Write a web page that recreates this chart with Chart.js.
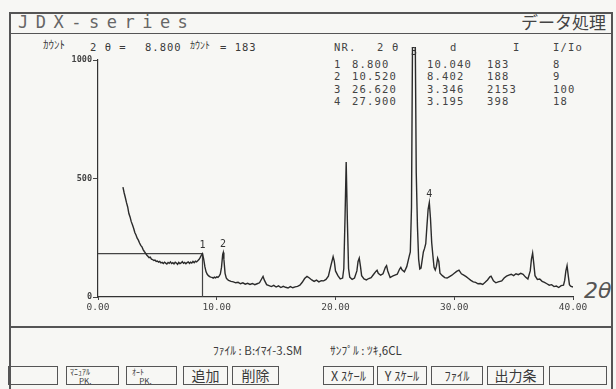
<!DOCTYPE html>
<html>
<head>
<meta charset="utf-8">
<script src="https://cdn.jsdelivr.net/npm/chart.js@4/dist/chart.umd.min.js"></script>
<style>
    body { margin: 0; background: #f7f7f4; }
    #wrap { position: relative; width: 616px; height: 389px; overflow: hidden; color: #3a3a3a; font-family: "DejaVu Sans Mono", monospace; }
    #chart { position: absolute; left: 0; top: 0; }
    .t { position: absolute; white-space: pre; line-height: 1; }
    .jp { font-family: "Noto Sans CJK JP", sans-serif; }
    .line { position: absolute; background: #555; }
    .btn { position: absolute; top: 366px; height: 19px; border: 1.2px solid #555; box-sizing: border-box;
           font-family: "Noto Sans CJK JP", sans-serif; font-size: 13px; line-height: 17px; text-align: center; white-space: pre; }
    .tbl { font-size: 10.5px; letter-spacing: 1.2px; color: #444; }
</style>
</head>
<body>
<div id="wrap">
    <!-- frame -->
    <div class="line" style="left:9px;top:12px;width:604px;height:1.5px"></div>
    <div class="line" style="left:9px;top:12px;width:1.5px;height:380px"></div>
    <div class="line" style="left:611px;top:12px;width:1.5px;height:380px"></div>
    <div class="line" style="left:9px;top:33px;width:604px;height:1.2px"></div>
    <div class="line" style="left:9px;top:326px;width:604px;height:1.8px"></div>

    <div class="t" style="left:18px;top:14px;font-size:17px;letter-spacing:7.5px;color:#666">JDX-series</div>
    <div class="t jp" style="left:521px;top:13px;font-size:17px;color:#444">データ処理</div>

    <div class="t jp" style="left:43px;top:39px;font-size:11px">ｶｳﾝﾄ</div>
    <div class="t" style="left:90px;top:42px;font-size:10.5px;letter-spacing:1px">2 θ =</div>
    <div class="t" style="left:145px;top:42px;font-size:10.5px;letter-spacing:1px">8.800</div>
    <div class="t jp" style="left:190px;top:40px;font-size:10px">ｶｳﾝﾄ</div>
    <div class="t" style="left:220px;top:42px;font-size:10.5px;letter-spacing:1px">= 183</div>

    <div id="table"></div>

    <div class="t" style="left:584px;top:280px;font-size:22px;color:#555;font-family:'DejaVu Sans',sans-serif;font-style:italic;font-weight:200">2θ</div>

    <div class="t jp" style="left:213px;top:345px;font-size:11.5px">ﾌｧｲﾙ : B:ｲﾏｲ-3.SM</div>
    <div class="t jp" style="left:330px;top:345px;font-size:11.5px">ｻﾝﾌﾟﾙ : ﾂｷ,6CL</div>

    <div class="btn" style="left:8px;width:50px"></div>
    <div class="btn" style="left:66px;width:53px;font-size:8px;line-height:9px;text-align:left;padding-left:3px">ﾏﾆｭｱﾙ<br>     PK.</div>
    <div class="btn" style="left:126px;width:51px;font-size:8px;line-height:9px;text-align:left;padding-left:5px">ｵｰﾄ<br>    PK.</div>
    <div class="btn" style="left:183px;width:45px;font-size:14px">追加</div>
    <div class="btn" style="left:232px;width:47px;font-size:14px">削除</div>
    <div class="btn" style="left:323px;width:51px;font-size:12.5px">X ｽｹｰﾙ</div>
    <div class="btn" style="left:377px;width:50px;font-size:12.5px">Y ｽｹｰﾙ</div>
    <div class="btn" style="left:431px;width:52px;font-size:12.5px">ﾌｧｲﾙ</div>
    <div class="btn" style="left:487px;width:57px;font-size:14px">出力条</div>
    <div class="btn" style="left:549px;width:58px"></div>

    <canvas id="chart" width="616" height="389"></canvas>
</div>

<script>
// diffraction pattern
const twoTheta = [
    2.1, 2.2, 2.3, 2.4, 2.5, 2.6, 2.7, 2.8, 2.9, 3.0, 3.1, 3.2, 3.3, 3.4, 3.5, 3.6, 3.7, 3.8, 3.9, 4.0,
    4.1, 4.2, 4.3, 4.4, 4.5, 4.6, 4.7, 4.8, 4.9, 5.0, 5.1, 5.2, 5.3, 5.4, 5.5, 5.6, 5.7, 5.8, 5.9, 6.0,
    6.1, 6.2, 6.3, 6.4, 6.5, 6.6, 6.7, 6.8, 6.9, 7.0, 7.1, 7.2, 7.3, 7.4, 7.5, 7.6, 7.7, 7.8, 7.9, 8.0,
    8.1, 8.2, 8.3, 8.4, 8.5, 8.6, 8.7, 8.8, 8.9, 9.0, 9.1, 9.2, 9.3, 9.4, 9.5, 9.6, 9.7, 9.8, 9.9, 10.0,
    10.1, 10.2, 10.3, 10.4, 10.5, 10.55, 10.6, 10.7, 10.8, 10.9, 11.0, 11.2, 11.4, 11.6, 11.8, 12.0, 12.2, 12.4, 12.6, 12.8,
    13.0, 13.2, 13.4, 13.6, 13.8, 13.9, 14.0, 14.2, 14.4, 14.6, 14.8, 15.0, 15.2, 15.4, 15.6, 15.8, 16.0, 16.2, 16.4, 16.6,
    16.8, 17.0, 17.2, 17.4, 17.6, 17.8, 18.0, 18.2, 18.4, 18.6, 18.8, 19.0, 19.2, 19.4, 19.6, 19.8, 19.9, 20.0, 20.2, 20.4,
    20.6, 20.7, 20.8, 20.9, 21.0, 21.1, 21.2, 21.4, 21.6, 21.8, 21.9, 22.0, 22.1, 22.2, 22.4, 22.6, 22.8, 23.0, 23.2, 23.4,
    23.5, 23.6, 23.8, 24.0, 24.2, 24.3, 24.4, 24.6, 24.8, 25.0, 25.2, 25.4, 25.5, 25.6, 25.8, 26.0, 26.2, 26.3, 26.4, 26.5,
    26.62, 26.7, 26.8, 26.9, 27.0, 27.1, 27.2, 27.4, 27.5, 27.6, 27.7, 27.8, 27.9, 28.0, 28.1, 28.2, 28.3, 28.4, 28.5, 28.6,
    28.7, 28.8, 29.0, 29.2, 29.4, 29.6, 29.8, 30.0, 30.2, 30.4, 30.6, 30.8, 31.0, 31.2, 31.4, 31.6, 31.8, 32.0, 32.2, 32.4,
    32.6, 32.8, 33.0, 33.1, 33.3, 33.5, 33.7, 34.0, 34.2, 34.4, 34.6, 34.8, 35.0, 35.2, 35.4, 35.6, 35.8, 36.0, 36.2, 36.4,
    36.5, 36.6, 36.7, 36.8, 37.0, 37.2, 37.4, 37.6, 37.8, 38.0, 38.2, 38.4, 38.6, 38.8, 39.0, 39.2, 39.3, 39.4, 39.5, 39.6,
    39.7, 39.8, 40.0
];
const counts = [
    464, 440, 420, 398, 380, 352, 338, 318, 305, 290, 272, 262, 248, 240, 228, 218, 212, 200, 192, 185,
    177, 172, 166, 168, 160, 158, 154, 156, 150, 152, 147, 150, 144, 146, 141, 147, 143, 139, 146, 142,
    148, 141, 145, 140, 147, 143, 138, 146, 141, 144, 149, 142, 146, 140, 145, 148, 142, 147, 143, 150,
    145, 151, 148, 153, 158, 166, 176, 183, 160, 128, 106, 96, 90, 86, 84, 83, 80, 84, 81, 85,
    83, 88, 97, 125, 180, 188, 160, 100, 80, 74, 70, 66, 64, 60, 62, 56, 60, 54, 58, 53,
    57, 52, 56, 60, 78, 87, 72, 52, 48, 44, 49, 42, 47, 40, 45, 41, 38, 44, 39, 43,
    45, 50, 62, 78, 87, 80, 72, 66, 71, 64, 69, 68, 74, 88, 130, 170, 150, 110, 90, 76,
    80, 120, 330, 570, 320, 120, 84, 74, 80, 110, 150, 164, 130, 90, 76, 72, 78, 82, 95, 108,
    113, 100, 92, 98, 125, 132, 110, 82, 88, 92, 96, 118, 125, 115, 106, 128, 170, 190, 380, 1200,
    2153, 1200, 523, 300, 160, 118, 122, 190, 205, 225, 300, 370, 398, 330, 230, 175, 125, 114, 130, 164,
    150, 100, 90, 82, 80, 86, 92, 100, 108, 113, 98, 92, 86, 78, 70, 64, 62, 56, 57, 53,
    62, 72, 85, 88, 68, 60, 64, 68, 80, 88, 92, 96, 90, 98, 94, 100, 96, 84, 76, 110,
    160, 185, 140, 90, 74, 76, 66, 62, 56, 50, 52, 44, 46, 40, 48, 50, 70, 110, 132, 90,
    52, 46, 42
];

// cursor position and peak list
const cursorTheta = 8.8;
const cursorCount = 183;
const peakNr = [1, 2, 3, 4];
const peakTheta = [8.8, 10.52, 26.62, 27.9];
const peakD = ["10.040", "8.402", "3.346", "3.195"];
const peakI = [183, 188, 2153, 398];
const peakRel = [8, 9, 100, 18];

// table text (html)
const tbl = document.getElementById("table");
function put(txt, x, y) {
    const d = document.createElement("div");
    d.className = "t tbl";
    d.style.left = x + "px";
    d.style.top = y + "px";
    d.textContent = txt;
    tbl.appendChild(d);
}
put("NR.", 334, 42);
put("2 θ", 377, 42);
put("d", 450, 42);
put("I", 513, 42);
put("I/Io", 553, 42);
peakNr.forEach((n, i) => {
    const y = 59 + i * 12.4;
    put(String(n), 334, y);
    put(peakTheta[i].toFixed(3), 352, y);
    put(peakD[i], 427, y);
    put(String(peakI[i]), 487, y);
    put(String(peakRel[i]), 553, y);
});

const peakLabels = {
    id: "peakLabels",
    afterDatasetsDraw(chart) {
        const { ctx, scales, chartArea } = chart;
        ctx.save();
        ctx.font = "10px 'DejaVu Sans Mono'";
        ctx.fillStyle = "#333";
        ctx.textAlign = "center";
        ctx.textBaseline = "bottom";
        peakNr.forEach((n, i) => {
            const px = scales.x.getPixelForValue(peakTheta[i]);
            let py = scales.y.getPixelForValue(peakI[i]) - 3;
            if (py < chartArea.top - 6) py = chartArea.top - 3;
            ctx.fillText(String(n), px, py);
        });
        ctx.restore();
    }
};

new Chart(document.getElementById("chart").getContext("2d"), {
    type: "line",
    data: {
        datasets: [
            {
                data: twoTheta.map((t, i) => ({ x: t, y: counts[i] })),
                borderColor: "#2b2b2b",
                borderWidth: 1.4,
                pointRadius: 0,
                tension: 0,
                clip: { left: 0, top: 13, right: 0, bottom: 0 },
            },
            {
                data: [
                    { x: 0, y: cursorCount },
                    { x: cursorTheta, y: cursorCount },
                    { x: cursorTheta, y: 0 },
                ],
                borderColor: "#444",
                borderWidth: 1.2,
                pointRadius: 0,
                tension: 0,
            },
        ],
    },
    options: {
        responsive: false,
        animation: false,
        layout: { padding: { left: 56, right: 43, top: 60, bottom: 70 } },
        plugins: { legend: { display: false }, tooltip: { enabled: false } },
        scales: {
            x: {
                type: "linear",
                min: 0,
                max: 40,
                ticks: {
                    stepSize: 10,
                    maxRotation: 0,
                    padding: 2,
                    color: "#444",
                    font: { family: "DejaVu Sans Mono", size: 9.5 },
                    callback: (v) => v.toFixed(2),
                },
                grid: { drawOnChartArea: false, tickLength: 3, color: "#444" },
                border: { color: "#333", width: 1.2 },
                afterFit: (s) => { s.height = 22; },
            },
            y: {
                min: 0,
                max: 1000,
                ticks: {
                    stepSize: 500,
                    padding: 1,
                    color: "#444",
                    font: { family: "DejaVu Sans Mono", size: 8.5, weight: "bold" },
                    callback: (v) => String(v),
                },
                grid: { drawOnChartArea: false, tickLength: 5, color: "#444" },
                border: { color: "#333", width: 1.2 },
                afterFit: (s) => { s.width = 42; },
            },
        },
    },
    plugins: [peakLabels],
});
</script>
</body>
</html>
